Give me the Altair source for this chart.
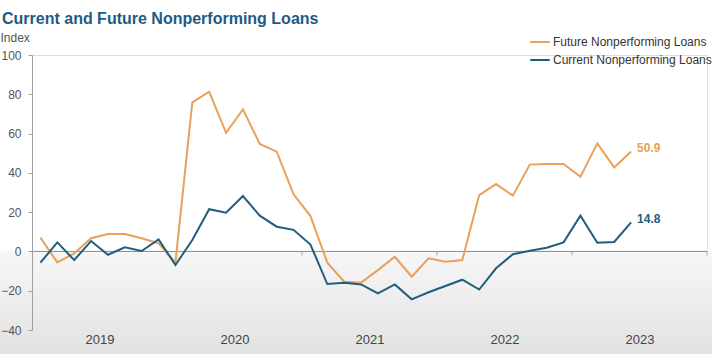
import altair as alt
import pandas as pd

# ---- data ----
series_names = ["Future Nonperforming Loans", "Current Nonperforming Loans"]
future = [7.0, -5.6, -1.0, 6.7, 8.9, 8.9, 6.7, 4.1, -5.7, 75.9, 81.3, 60.4,
          72.3, 54.7, 50.8, 29.1, 18.0, -5.7, -15.4, -15.9, -9.5, -2.7, -12.9, -3.5,
          -5.2, -4.4, 28.7, 34.3, 28.4, 44.2, 44.5, 44.5, 38.0, 55.0, 42.8, 50.9]
current = [-5.7, 4.6, -4.4, 5.3, -1.7, 2.1, 0.2, 6.1, -6.9, 5.8, 21.5, 19.7,
           28.2, 18.2, 12.6, 11.0, 3.5, -16.6, -15.9, -16.8, -21.3, -16.8, -24.4, -20.8,
           -17.6, -14.4, -19.4, -8.6, -1.4, 0.3, 1.9, 4.6, 18.2, 4.4, 4.8, 14.8]
# survey periods (8 per year), starting early 2019
period = [2019 + (i + 0.5) / 8 for i in range(len(future))]
year_labels_at = [2019.5, 2020.5, 2021.5, 2022.5, 2023.5]
year_bounds = [2020, 2021, 2022, 2023, 2024]
y_ticks = [-40, -20, 0, 20, 40, 60, 80, 100]

ORANGE = "#e9a05b"
BLUE = "#205e7d"
FONT = "Liberation Sans, Arial, sans-serif"

rows = []
for p, f, c in zip(period, future, current):
    rows.append({"period": p, "series": series_names[0], "value": f})
    rows.append({"period": p, "series": series_names[1], "value": c})
df = pd.DataFrame(rows)
last = df[df["period"] == period[-1]].copy()
last["label"] = last["value"].map(lambda v: f"{v:.1f}")

xscale = alt.Scale(domain=[2019, 2024], nice=False, zero=False)
yscale = alt.Scale(domain=[-40, 100], nice=False, zero=False)

x_axis = alt.Axis(values=year_labels_at, labelExpr="floor(datum.value)",
                  domain=False, ticks=False, grid=False, labelPadding=3,
                  labelOverlap=False,
                  labelFont=FONT, labelFontSize=13, labelColor="#444444",
                  title=None, zindex=1)
y_axis = alt.Axis(values=y_ticks, grid=False, domainColor="#a0a0a0",
                  tickColor="#a0a0a0", tickSize=4, labelPadding=7,
                  labelOverlap=False,
                  labelFont=FONT, labelFontSize=12, labelColor="#555555",
                  title="Index", titleAngle=0, titleAlign="left",
                  titleBaseline="bottom", titleX=-32, titleY=-11,
                  titleFont=FONT, titleFontSize=12, titleFontWeight="normal",
                  titleColor="#555555", zindex=1)

# gradient backdrop below the zero line
backdrop = alt.Chart(pd.DataFrame({"z": [0]})).mark_rect(
    fill=alt.Gradient(gradient="linear",
                      stops=[alt.GradientStop(color="#f7f7f7", offset=0),
                             alt.GradientStop(color="#e2e2e2", offset=1)],
                      x1=0, x2=0, y1=0, y2=1)
).encode(
    y=alt.Y("z:Q", scale=yscale, axis=y_axis),
    y2=alt.value(300),
    x=alt.value(-32),
    x2=alt.value(680),
)

zero = alt.Chart(pd.DataFrame({"z": [0]})).mark_rule(color="#8a8a8a", strokeWidth=1).encode(
    y=alt.Y("z:Q", scale=yscale, axis=y_axis)
)

bound_ticks = alt.Chart(pd.DataFrame({"b": year_bounds, "z": [0] * len(year_bounds)})).mark_tick(
    orient="vertical", size=4, thickness=1, color="#8a8a8a", yOffset=2
).encode(
    x=alt.X("b:Q", scale=xscale, axis=x_axis),
    y=alt.Y("z:Q", scale=yscale, axis=y_axis),
)

color = alt.Color(
    "series:N",
    scale=alt.Scale(domain=series_names, range=[ORANGE, BLUE]),
    legend=alt.Legend(
        title=None, orient="none", legendX=497, legendY=-24,
        symbolType="stroke", symbolSize=380, symbolStrokeWidth=2,
        labelFont=FONT, labelFontSize=12, labelColor="#333333",
        labelOffset=2, rowPadding=1,
    ),
)

lines = alt.Chart(df).mark_line(strokeWidth=2).encode(
    x=alt.X("period:Q", scale=xscale, axis=x_axis),
    y=alt.Y("value:Q", scale=yscale, axis=y_axis),
    color=color,
    detail="series:N",
)

end_labels = alt.Chart(last).mark_text(
    align="left", baseline="middle", dx=6, dy=-3, font=FONT, fontSize=12, fontWeight="bold"
).encode(
    x=alt.X("period:Q", scale=xscale, axis=x_axis),
    y=alt.Y("value:Q", scale=yscale, axis=y_axis),
    text="label:N",
    color=alt.Color("series:N", scale=alt.Scale(domain=series_names, range=[ORANGE, BLUE]), legend=None),
)

chart = alt.layer(backdrop, zero, bound_ticks, lines, end_labels).properties(
    width=675,
    height=275,
    padding={"left": 32, "top": 55, "right": 5, "bottom": 24},
    autosize=alt.AutoSizeParams(type="none"),
    title=alt.TitleParams(
        "Current and Future Nonperforming  Loans", anchor="start", frame="group",
        dx=-30, offset=4, font=FONT, fontSize=16, fontWeight="bold", color="#1d5b86",
    ),
).configure_view(stroke=None).configure(background="white")

chart.save("out.html", embed_options={"renderer": "svg", "actions": False})
